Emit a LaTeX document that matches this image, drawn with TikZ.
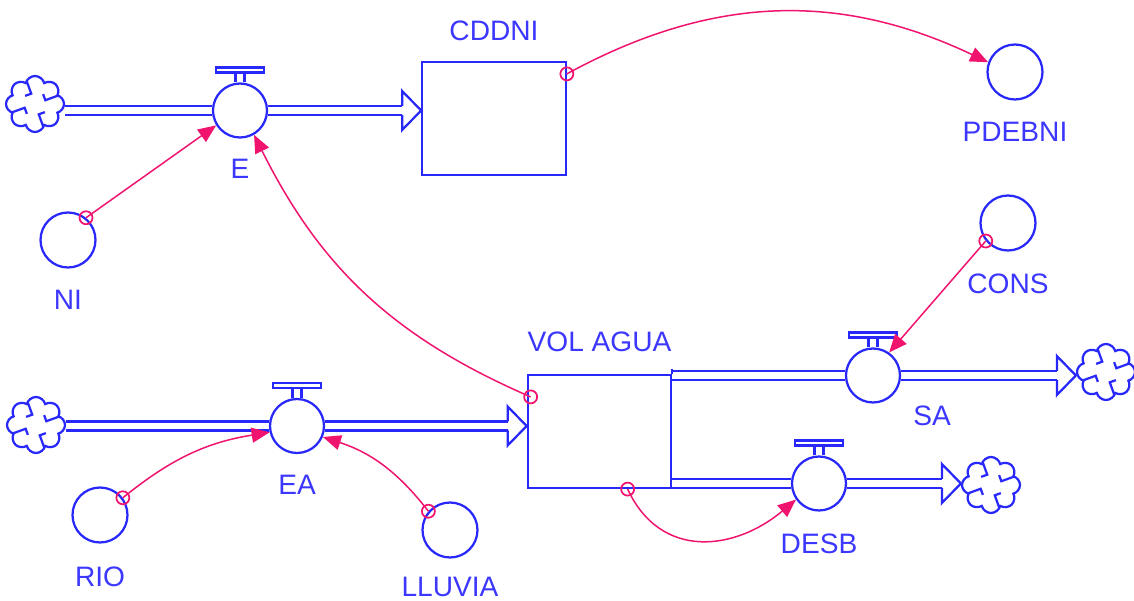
\documentclass[tikz,border=0pt]{standalone}
\usepackage{fontspec}
\setmainfont{Liberation Sans}
\usetikzlibrary{arrows.meta}
\usetikzlibrary{calc,shapes.symbols}
\usetikzlibrary{positioning}
\usetikzlibrary{backgrounds}
\definecolor{flowblue}{RGB}{40,40,250}
\definecolor{labelblue}{RGB}{60,55,255}
\definecolor{linkpink}{RGB}{240,20,110}
\tikzset{
  flow/.style={draw=flowblue,line width=0.045cm},
  pipe/.style={draw=flowblue,line width=0.045cm,double=white,double distance=0.135cm},
  valve/.style={flow,circle,fill=white,minimum size=1.08cm,inner sep=0},
  aux/.style={flow,circle,minimum size=1.1cm,inner sep=0},
  stock/.style={flow,rectangle,minimum width=2.87cm,minimum height=2.26cm,inner sep=0},
  sky/.style={flow,cloud,cloud puffs=8,cloud ignores aspect,minimum width=1.16cm,
              minimum height=1.12cm,inner sep=0,
    path picture={
      \foreach \a in {0,90,180,270}
        \draw[flowblue,line width=0.045cm]
          ($(path picture bounding box.center)+(\a+20:0.7cm)$) -- ++(\a+200:0.48cm) -- ++(\a+110:0.13cm);
    }},
  lbl/.style={text=labelblue,inner sep=0,font=\fontsize{16}{19}\selectfont},
  link/.style={draw=linkpink,line width=0.03cm,-{Triangle[length=0.36cm,width=0.3cm]}},
  linkdot/.style={draw=linkpink,line width=0.035cm,circle,minimum size=0.26cm,inner sep=0}
}
% stem and handle on top of a valve
\newcommand\valveTop[1]{
  \draw[flow] ($(#1.north)+(-4.5,0)$) -- ++(0,-10) ($(#1.north)+(4.5,0)$) -- ++(0,-10);
  \draw[flow] ($(#1.north)+(-24,-10)$) rectangle ($(#1.north)+(24,-15)$);
}
% double pipe ending in an open arrow head
\newcommand\flowPipe[2]{
  \draw[pipe] (#1) -- ($(#2)+(-19,0)$);
  \draw[flow] ($(#2)+(-19,-4.5)$) -- ++(0,-15) -- (#2) -- ($(#2)+(-19,19.5)$) -- ++(0,-15);
}
% information link with its small circle at the start
\newcommand\infoLink[3][]{
  \draw[link] (#2) to[#1] (#3);
  \node[linkdot] (dot#2) at (#2) {};
}

\begin{document}
\begin{tikzpicture}[x=0.02cm,y=-0.02cm]
  \useasboundingbox (0,0) rectangle (1134,601);

  % STOCKS
  \node[stock] (CDDNI) at (494,118.5) {};
  \node[stock] (VOL)   at (599.5,431.5) {};

  % VALVES
  \node[valve] (E)    at (240,110.5) {};
  \node[valve] (EA)   at (297,426) {};
  \node[valve] (SA)   at (873,375.5) {};
  \node[valve] (DESB) at (819,483.5) {};
  \foreach \v in {E,EA,SA,DESB}{
    \valveTop{\v}
  }

  % CLOUDS
  \node[sky] (srcE)     at (35,104) {};
  \node[sky] (srcEA)    at (36,425) {};
  \node[sky] (sinkSA)   at (1106,372) {};
  \node[sky] (sinkDESB) at (991,485) {};

  % AUXILIARIES
  \node[aux] (NI)     at (68,240) {};
  \node[aux] (PDEBNI) at (1015,72) {};
  \node[aux] (CONS)   at (1008,223) {};
  \node[aux] (RIO)    at (100,515) {};
  \node[aux] (LLUVIA) at (450,530) {};

  % LABELS
  \node[lbl,above=0.4cm of CDDNI]  (lblCDDNI)  {CDDNI};
  \node[lbl,above=0.44cm of VOL]   (lblVOL)    {VOL AGUA};
  \node[lbl,below=0.4cm of E]      (lblE)      {E};
  \node[lbl,below=0.42cm of EA]    (lblEA)     {EA};
  \node[lbl]                       (lblSA)     at ($(SA)+(59,40)$) {SA};
  \node[lbl,below=0.44cm of DESB]  (lblDESB)   {DESB};
  \node[lbl,below=0.42cm of NI]    (lblNI)     {NI};
  \node[lbl,below=0.42cm of PDEBNI](lblPDEBNI) {PDEBNI};
  \node[lbl,below=0.44cm of CONS]  (lblCONS)   {CONS};
  \node[lbl,below=0.46cm of RIO]   (lblRIO)    {RIO};
  \node[lbl,below=0.36cm of LLUVIA](lblLLUVIA) {LLUVIA};

  % FLOWS
  \coordinate (tipE)    at (CDDNI.west |- E.east);
  \coordinate (tipEA)   at (VOL.west |- EA.east);
  \coordinate (tipSA)   at (sinkSA.west |- SA.east);
  \coordinate (tipDESB) at (sinkDESB.west |- DESB.east);
  \begin{scope}[on background layer]
    \draw[pipe] (srcE.east |- E.west) -- (E.west);
    \flowPipe{E.east}{tipE}
    \draw[pipe] (srcEA.east |- EA.west) -- (EA.west);
    \flowPipe{EA.east}{tipEA}
    \draw[pipe] (VOL.east |- SA.west) -- (SA.west);
    \flowPipe{SA.east}{tipSA}
    \draw[pipe] (VOL.east |- DESB.west) -- (DESB.west);
    \flowPipe{DESB.east}{tipDESB}
    \draw[flow] (VOL.north east) -- ++(0,-5);
  \end{scope}

  % LINKS
  \coordinate (cddniOut)  at ($(CDDNI.north east)+(0,13)$);
  \coordinate (niOut)     at (NI.51);
  \coordinate (volOutE)   at ($(VOL.north west)+(4,23)$);
  \coordinate (rioOut)    at (RIO.37);
  \coordinate (lluviaOut) at (LLUVIA.139);
  \coordinate (consOut)   at (CONS.219);
  \coordinate (volOutD)   at ($(VOL.south west)+(101,0)$);
  \infoLink[bend left=27]{cddniOut}{PDEBNI.160}
  \infoLink{niOut}{E.212}
  \infoLink[bend left=20]{volOutE}{E.300}
  \infoLink[bend left=15]{rioOut}{EA.193}
  \infoLink[bend right=17]{lluviaOut}{EA.337}
  \infoLink{consOut}{SA.55}
  \infoLink[out=-65,in=220,looseness=1.2]{volOutD}{DESB.215}
\end{tikzpicture}
\end{document}
